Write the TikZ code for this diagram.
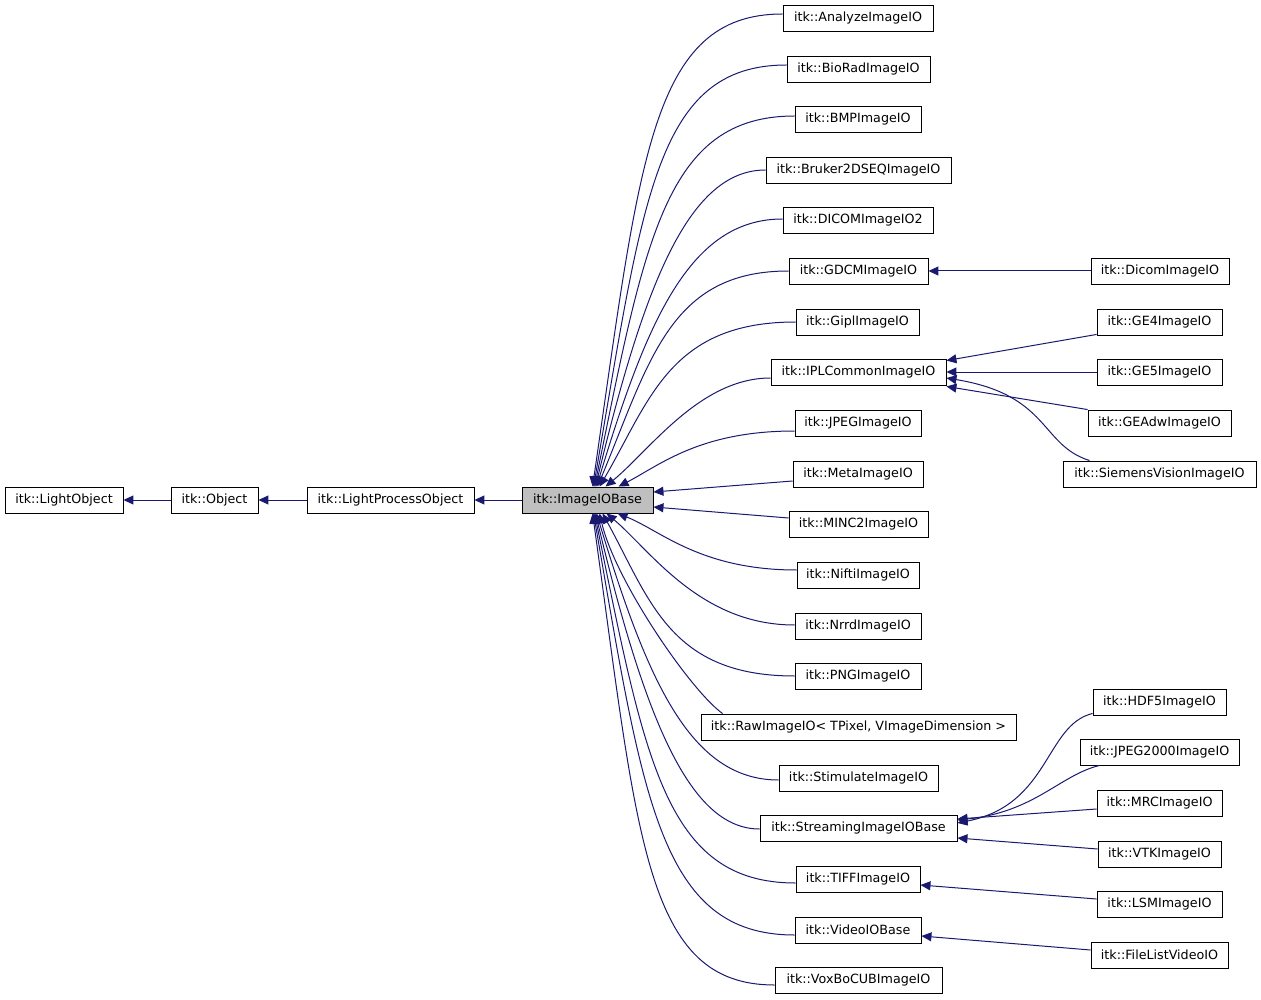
\documentclass[tikz,border=0pt]{standalone}
\usepackage{fontspec}
\setmainfont{DejaVu Sans}
\usetikzlibrary{arrows.meta}
\definecolor{edgeblue}{HTML}{191970}
\begin{document}
\begin{tikzpicture}[x=1pt,y=1pt,
  cls/.style={draw=black, line width=0.9pt, fill=white, minimum height=26pt, inner sep=0pt, font=\fontsize{12.7}{14}\selectfont},
  basecls/.style={cls, fill=black!25},
  inh/.style={draw=edgeblue, line width=1pt, -{Triangle[length=10pt,width=9pt]}}
]
\useasboundingbox (0,0) rectangle (1261,-1000);
% chain
\node[cls, minimum width=118pt] (lo) at (64,-500) {itk::LightObject};
\node[cls, minimum width=87pt] (ob) at (214.5,-500) {itk::Object};
\node[cls, minimum width=167pt] (lpo) at (390.5,-500) {itk::LightProcessObject};
\node[basecls, minimum width=131pt] (base) at (587.5,-500) {itk::ImageIOBase};
% middle column
\node[cls, minimum width=150pt] (analyze) at (858,-18) {itk::AnalyzeImageIO};
\node[cls, minimum width=143pt] (biorad) at (858.5,-69) {itk::BioRadImageIO};
\node[cls, minimum width=126pt] (bmp) at (858,-119) {itk::BMPImageIO};
\node[cls, minimum width=185pt] (bruker) at (858.5,-170) {itk::Bruker2DSEQImageIO};
\node[cls, minimum width=150pt] (dicom2) at (858,-220) {itk::DICOMImageIO2};
\node[cls, minimum width=139pt] (gdcm) at (858.5,-271) {itk::GDCMImageIO};
\node[cls, minimum width=123pt] (gipl) at (857.5,-322) {itk::GiplImageIO};
\node[cls, minimum width=175pt] (ipl) at (858.5,-372) {itk::IPLCommonImageIO};
\node[cls, minimum width=126pt] (jpeg) at (858,-423) {itk::JPEGImageIO};
\node[cls, minimum width=130pt] (meta) at (858,-474) {itk::MetaImageIO};
\node[cls, minimum width=139pt] (minc) at (858.5,-524) {itk::MINC2ImageIO};
\node[cls, minimum width=122pt] (nifti) at (858,-575) {itk::NiftiImageIO};
\node[cls, minimum width=126pt] (nrrd) at (858,-626) {itk::NrrdImageIO};
\node[cls, minimum width=126pt] (png) at (858,-676) {itk::PNGImageIO};
\node[cls, minimum width=315pt] (raw) at (858.5,-727) {itk::RawImageIO< TPixel, VImageDimension >};
\node[cls, minimum width=159pt] (stim) at (858.5,-778) {itk::StimulateImageIO};
\node[cls, minimum width=197pt] (stream) at (858.5,-828) {itk::StreamingImageIOBase};
\node[cls, minimum width=124pt] (tiff) at (858,-879) {itk::TIFFImageIO};
\node[cls, minimum width=126pt] (video) at (858,-930) {itk::VideoIOBase};
\node[cls, minimum width=167pt] (voxbo) at (858.5,-980) {itk::VoxBoCUBImageIO};
% right column
\node[cls, minimum width=138pt] (dicomio) at (1160,-271) {itk::DicomImageIO};
\node[cls, minimum width=125pt] (ge4) at (1159.5,-322) {itk::GE4ImageIO};
\node[cls, minimum width=125pt] (ge5) at (1159.5,-372) {itk::GE5ImageIO};
\node[cls, minimum width=143pt] (geadw) at (1159.5,-423) {itk::GEAdwImageIO};
\node[cls, minimum width=193pt] (siemens) at (1159.5,-474) {itk::SiemensVisionImageIO};
\node[cls, minimum width=133pt] (hdf5) at (1159.5,-702) {itk::HDF5ImageIO};
\node[cls, minimum width=159pt] (jp2k) at (1159.5,-752) {itk::JPEG2000ImageIO};
\node[cls, minimum width=125pt] (mrc) at (1159.5,-803) {itk::MRCImageIO};
\node[cls, minimum width=123pt] (vtk) at (1159.5,-854) {itk::VTKImageIO};
\node[cls, minimum width=125pt] (lsm) at (1159.5,-904) {itk::LSMImageIO};
\node[cls, minimum width=137pt] (filelist) at (1159.5,-955) {itk::FileListVideoIO};
% chain edges
\draw[inh] (ob.west) -- (lo.east);
\draw[inh] (lpo.west) -- (ob.east);
\draw[inh] (base.west) -- (lpo.east);
% edges into ImageIOBase (top)
\draw[inh] ([yshift=4]analyze.west) .. controls (650,-14) and (640,-160) .. ([xshift=71]base.north west);
\draw[inh] ([yshift=4]biorad.west) .. controls (655,-65) and (643,-200) .. ([xshift=72]base.north west);
\draw[inh] ([yshift=3]bmp.west) .. controls (665,-116) and (645,-240) .. ([xshift=73]base.north west);
\draw[inh] (bruker.west) .. controls (690,-170) and (645,-280) .. ([xshift=74]base.north west);
\draw[inh] ([yshift=1]dicom2.west) .. controls (690,-219) and (647,-320) .. ([xshift=75]base.north west);
\draw[inh] (gdcm.west) .. controls (670,-271) and (650,-360) .. ([xshift=76]base.north west);
\draw[inh] (gipl.west) .. controls (670,-322) and (650,-400) .. ([xshift=78]base.north west);
\draw[inh] ([yshift=-6]ipl.west) .. controls (700,-378) and (650,-450) .. ([xshift=84]base.north west);
\draw[inh] ([yshift=-8]jpeg.west) .. controls (700,-431) and (660,-465) .. ([xshift=97]base.north west);
\draw[inh] ([yshift=-7]meta.west) -- ([yshift=8]base.east);
\draw[inh] ([yshift=6]minc.west) -- ([yshift=-7]base.east);
% edges into ImageIOBase (bottom)
\draw[inh] ([yshift=5]nifti.west) .. controls (700,-570) and (660,-530) .. ([xshift=96]base.south west);
\draw[inh] ([yshift=1]nrrd.west) .. controls (700,-625) and (650,-550) .. ([xshift=85]base.south west);
\draw[inh] (png.west) .. controls (670,-676) and (650,-600) .. ([xshift=81]base.south west);
\draw[inh] ([xshift=22]raw.north west) .. controls (690,-690) and (615,-580) .. ([xshift=78]base.south west);
\draw[inh] ([yshift=-2]stim.west) .. controls (690,-780) and (647,-680) .. ([xshift=75]base.south west);
\draw[inh] ([yshift=-1]stream.west) .. controls (690,-829) and (645,-720) .. ([xshift=74]base.south west);
\draw[inh] ([yshift=-4]tiff.west) .. controls (665,-883) and (645,-760) .. ([xshift=73]base.south west);
\draw[inh] ([yshift=-5]video.west) .. controls (660,-935) and (643,-800) .. ([xshift=72]base.south west);
\draw[inh] ([yshift=-5]voxbo.west) .. controls (645,-985) and (638,-840) .. ([xshift=71]base.south west);
% right side edges
\draw[inh] (dicomio.west) -- (gdcm.east);
\draw[inh] ([yshift=1]ge4.south west) -- ([yshift=-2]ipl.north east);
\draw[inh] (ge5.west) -- (ipl.east);
\draw[inh] (geadw.north west) -- ([yshift=-1]ipl.south east);
\draw[inh] ([xshift=27]siemens.north west) .. controls (1040,-445) and (1050,-395) .. ([yshift=-6]ipl.east);
\draw[inh] ([yshift=2]hdf5.south west) .. controls (1045,-725) and (1050,-805) .. ([yshift=5]stream.east);
\draw[inh] ([xshift=20]jp2k.south west) .. controls (1060,-775) and (1035,-812) .. ([yshift=8]stream.east);
\draw[inh] ([yshift=-6]mrc.west) -- ([yshift=9]stream.east);
\draw[inh] ([yshift=5]vtk.west) -- ([yshift=-10]stream.east);
\draw[inh] ([yshift=5]lsm.west) -- ([yshift=-6]tiff.east);
\draw[inh] ([yshift=5]filelist.west) -- ([yshift=-6]video.east);
\end{tikzpicture}
\end{document}
